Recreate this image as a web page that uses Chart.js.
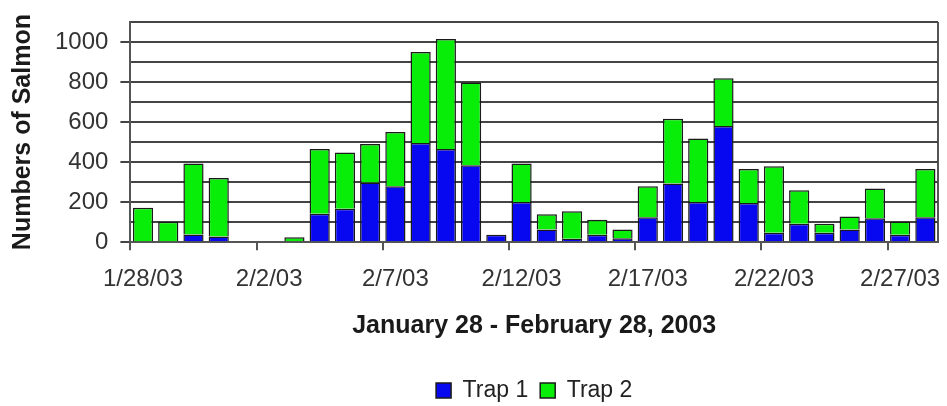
<!DOCTYPE html>
<html lang="en">
<head>
    <meta charset="UTF-8">
    <title>Salmon Trap Counts</title>
    <style>
        html, body { margin: 0; padding: 0; background: #fff; }
        .chart-box { width: 947px; height: 406px; }
    </style>
    <script src="https://cdn.jsdelivr.net/npm/chart.js"></script>
</head>
<body>
    <div class="chart-box">
        <canvas id="myChart"></canvas>
    </div>

    <script>
        // Daily counts, 1/28/03 - 2/28/03
        const dates = [
            '1/28/03', '1/29/03', '1/30/03', '1/31/03', '2/1/03', '2/2/03', '2/3/03', '2/4/03',
            '2/5/03', '2/6/03', '2/7/03', '2/8/03', '2/9/03', '2/10/03', '2/11/03', '2/12/03',
            '2/13/03', '2/14/03', '2/15/03', '2/16/03', '2/17/03', '2/18/03', '2/19/03', '2/20/03',
            '2/21/03', '2/22/03', '2/23/03', '2/24/03', '2/25/03', '2/26/03', '2/27/03', '2/28/03'
        ];
        const trap1 = [0, 0, 38, 28, 0, 0, 0, 142, 167, 298, 279, 495, 466, 385, 37, 201,
                       64, 17, 37, 20, 125, 293, 201, 580, 196, 47, 92, 47, 64, 120, 37, 125];
        const trap2 = [172, 102, 355, 293, 0, 0, 25, 324, 281, 192, 271, 455, 549, 413, 0, 192,
                       75, 138, 75, 44, 154, 324, 317, 239, 170, 333, 167, 45, 65, 148, 67, 241];

        // keep the legend centred under the plot area and a bit lower
        const legendPlacer = {
            id: 'legendPlacer',
            afterLayout(chart) {
                const lg = chart.legend, a = chart.chartArea;
                lg.left = a.left;
                lg.right = a.right;
                lg.width = a.right - a.left;
                lg.top += 6;
                lg.bottom += 6;
            }
        };

        const ctx = document.getElementById('myChart').getContext('2d');
        const myChart = new Chart(ctx, {
            type: 'bar',
            data: {
                labels: dates,
                datasets: [{
                    label: 'Trap 1',
                    data: trap1,
                    backgroundColor: '#0808f0',
                    borderColor: '#1a1a1a',
                    borderWidth: 1.5
                }, {
                    label: 'Trap 2',
                    data: trap2,
                    backgroundColor: '#08ee08',
                    borderColor: '#1a1a1a',
                    borderWidth: 1.5
                }]
            },
            plugins: [legendPlacer],
            options: {
                responsive: true,
                maintainAspectRatio: false,
                animation: false,
                layout: { padding: { top: 22, right: 9, left: 8, bottom: 0 } },
                datasets: { bar: { barPercentage: 0.8, categoryPercentage: 1.0 } },
                plugins: {
                    tooltip: { enabled: false },
                    legend: {
                        position: 'bottom',
                        labels: {
                            boxWidth: 15,
                            boxHeight: 15,
                            padding: 12,
                            color: '#222',
                            font: { family: 'Liberation Sans, Arial', size: 23 }
                        }
                    }
                },
                scales: {
                    x: {
                        stacked: true,
                        border: { display: true, color: '#555', width: 2 },
                        grid: {
                            offset: true,
                            drawOnChartArea: true,
                            tickLength: 8,
                            lineWidth: 2,
                            color: c => c.type === 'tick' ? 'transparent' : '#555',
                            tickColor: c => (c.type === 'tick' && c.index % 5 === 0) ? '#555' : 'transparent'
                        },
                        ticks: {
                            autoSkip: false,
                            maxRotation: 0,
                            padding: 15,
                            color: '#333',
                            font: { family: 'Liberation Sans, Arial', size: 24 },
                            callback: (v, i) => i % 5 === 0 ? dates[i] : ''
                        },
                        title: {
                            display: true,
                            text: 'January 28 - February 28, 2003',
                            color: '#1a1a1a',
                            font: { family: 'Liberation Sans, Arial', size: 25, weight: 'bold' },
                            padding: { top: 2, bottom: 20 }
                        }
                    },
                    y: {
                        stacked: true,
                        min: 0,
                        max: 1100,
                        border: { display: true, color: '#555', width: 2 },
                        grid: {
                            color: '#444',
                            lineWidth: 2,
                            tickLength: 10,
                            tickColor: c => (c.tick && c.tick.value % 200 === 0 && c.tick.value <= 1000) ? '#444' : 'transparent'
                        },
                        ticks: {
                            stepSize: 100,
                            autoSkip: false,
                            padding: 12,
                            color: '#333',
                            font: { family: 'Liberation Sans, Arial', size: 24, lineHeight: 0.8 },
                            callback: v => (v % 200 === 0 && v <= 1000) ? v : ''
                        },
                        title: {
                            display: true,
                            text: 'Numbers of Salmon',
                            color: '#1a1a1a',
                            font: { family: 'Liberation Sans, Arial', size: 25, weight: 'bold' },
                            padding: { top: 0, bottom: 5 }
                        }
                    }
                }
            }
        });
    </script>
</body>
</html>
